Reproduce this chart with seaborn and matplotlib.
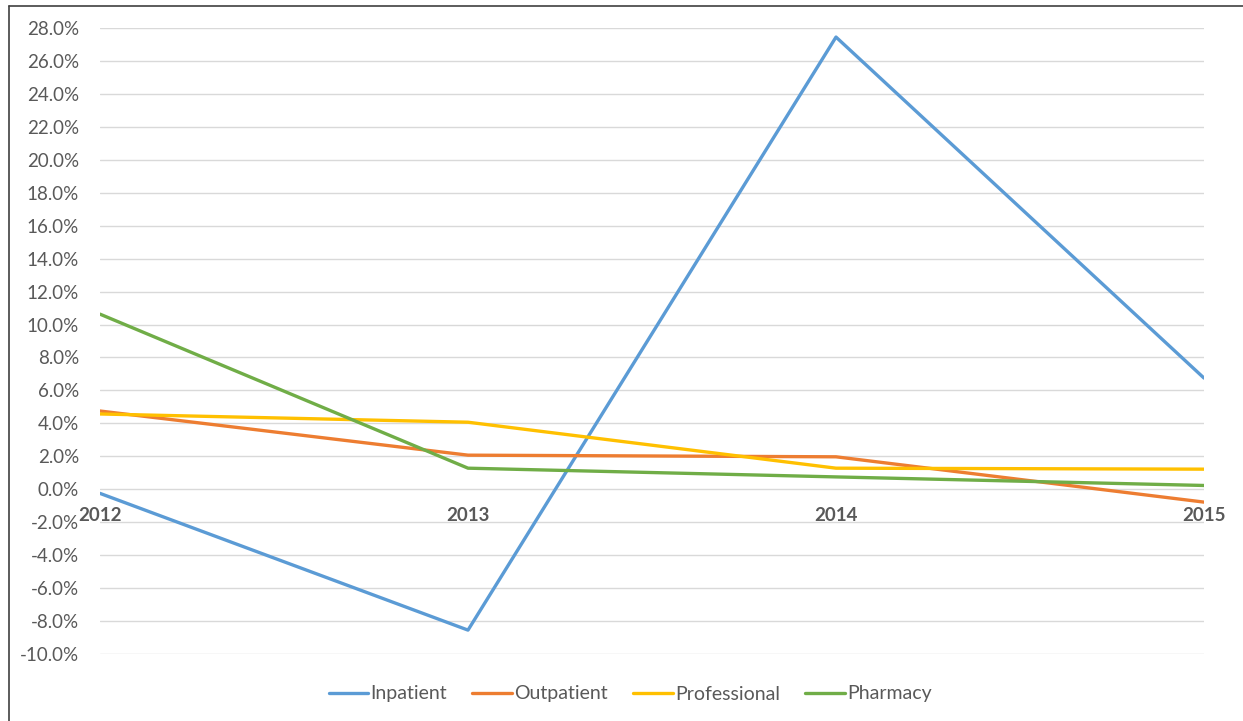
import matplotlib
matplotlib.use("Agg")
import matplotlib.pyplot as plt
from matplotlib.lines import Line2D
import seaborn as sns
import pandas as pd

years = [2012, 2013, 2014, 2015]
inpatient = [-0.25, -8.55, 27.45, 6.75]
outpatient = [4.75, 2.07, 1.97, -0.78]
professional = [4.57, 4.07, 1.28, 1.22]
pharmacy = [10.63, 1.28, 0.75, 0.23]

series_names = ["Inpatient", "Outpatient", "Professional", "Pharmacy"]
series_colors = ["#5B9BD5", "#ED7D31", "#FFC000", "#70AD47"]
y_ticks = list(range(-10, 29, 2))

df = pd.DataFrame({
    "year": years * 4,
    "value": inpatient + outpatient + professional + pharmacy,
    "series": [n for n in series_names for _ in years],
})

sns.set_theme(style="white")
plt.rcParams["font.family"] = ["Lato", "DejaVu Sans"]

fig = plt.figure(figsize=(12.43, 7.21), dpi=100)
ax = fig.add_axes([100 / 1243, 1 - 654 / 721, 1104 / 1243, 626 / 721])

sns.lineplot(data=df, x="year", y="value", hue="series", hue_order=series_names,
             palette=series_colors, linewidth=2.4, ax=ax, legend=False,
             sort=False, estimator=None)

ax.set_xlim(2012, 2015)
ax.set_ylim(-10, 28)
ax.set_yticks(y_ticks)
ax.set_yticklabels([f"{v:.1f}%" for v in y_ticks], fontsize=13.5, color="#595959")
ax.yaxis.grid(True, color="#D9D9D9", linewidth=1.0)
ax.set_axisbelow(True)
ax.set_xlabel("")
ax.set_ylabel("")

# category labels sit on the zero line, as in a spreadsheet chart
ax.spines["bottom"].set_position(("data", 0))
for s in ["top", "right", "left", "bottom"]:
    ax.spines[s].set_visible(False)
ax.set_xticks(years)
ax.set_xticklabels([str(y) for y in years], fontsize=13.5, fontweight="bold", color="#595959")
ax.tick_params(axis="x", length=0, pad=13)
ax.tick_params(axis="y", length=0, pad=15)

handles = [Line2D([0], [0], color=c, linewidth=2.4) for c in series_colors]
fig.legend(handles, series_names, loc="center", bbox_to_anchor=(630 / 1243, 1 - 694 / 721),
           ncol=4, frameon=False, fontsize=14, handlelength=2.05, handletextpad=0.1,
           columnspacing=1.3, labelcolor="#595959")

# frame edges of the chart area
fig.add_artist(Line2D([9 / 1243, 9 / 1243], [0, 1 - 6 / 721], color="#404040", linewidth=1.2,
                      transform=fig.transFigure))
fig.add_artist(Line2D([9 / 1243, 1], [1 - 6 / 721, 1 - 6 / 721], color="#404040", linewidth=1.2,
                      transform=fig.transFigure))

fig.savefig("out.png", dpi=100)
